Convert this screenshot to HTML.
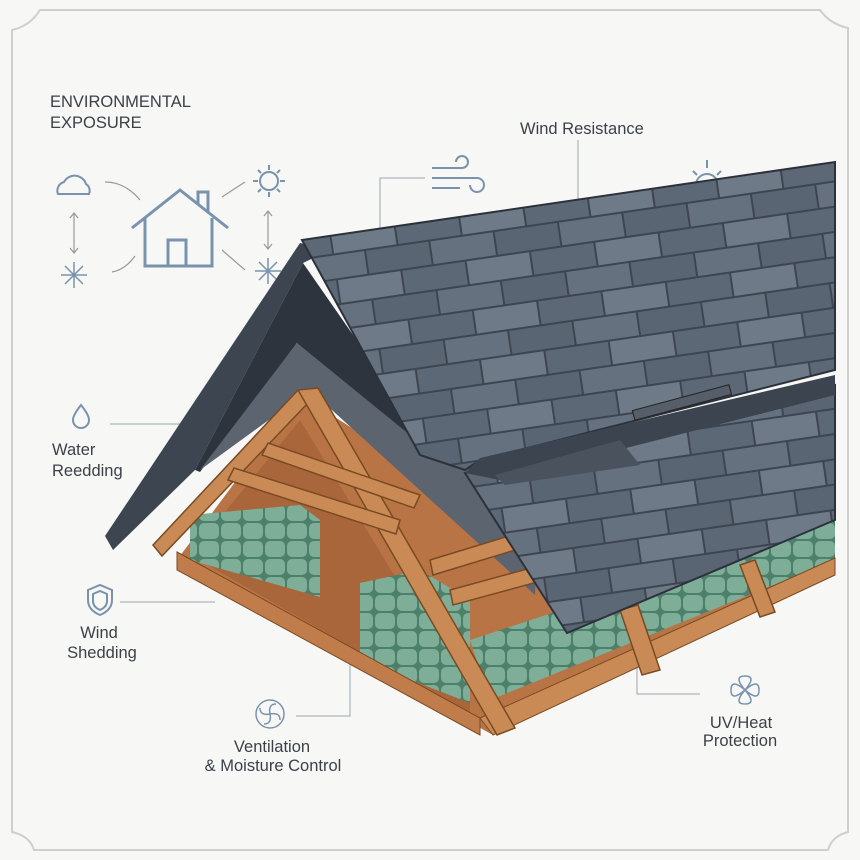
<!DOCTYPE html>
<html><head><meta charset="utf-8"><style>
html,body{margin:0;padding:0;background:#f7f7f6}
svg{display:block}
text{font-family:"Liberation Sans",sans-serif;fill:#3c4148}
</style></head><body>
<svg width="860" height="860" viewBox="0 0 860 860" xmlns="http://www.w3.org/2000/svg">
<defs>
<pattern id="sh" width="130" height="50" patternUnits="userSpaceOnUse" patternTransform="rotate(-8.3)">
<rect width="130" height="50" fill="#3d4550"/>
<rect x="1" y="1" width="63" height="23" fill="#66717f"/>
<rect x="66" y="1" width="63" height="23" fill="#5a6573"/>
<rect x="-31" y="26" width="63" height="23" fill="#5d6876"/>
<rect x="34" y="26" width="63" height="23" fill="#6f7a88"/>
<rect x="99" y="26" width="63" height="23" fill="#5d6876"/>
</pattern>
<pattern id="ins" width="22" height="18" patternUnits="userSpaceOnUse">
<rect width="22" height="18" fill="#4d806a"/>
<rect x="1" y="1" width="20" height="16" rx="5" fill="#7fae98"/>
</pattern>
</defs>
<rect width="860" height="860" fill="#f7f7f6"/>
<path d="M40 10 H820 Q830 24 848 28 V832 Q832 836 828 850 H34 Q30 836 12 832 V30 Q30 26 40 10Z" fill="none" stroke="#cfcfcf" stroke-width="2"/>

<text x="50" y="107" font-size="16.5">ENVIRONMENTAL</text>
<text x="50" y="128" font-size="16.5">EXPOSURE</text>
<g fill="none" stroke="#7a93ad" stroke-width="2">
<path d="M58 194 a9 9 0 0 1 6 -12 a12 12 0 0 1 22 2 a8 8 0 0 1 3 10 Z"/>
<path d="M132 228 L180 190 L228 228 M145 218 V266 H212 V218 M168 266 V240 H186 V266 M198 205 V192 H208 V212" stroke-width="3"/>
<circle cx="269" cy="181" r="9"/>
<path d="M269 165v5M269 192v5M253 181h5M280 181h5M258 170l3 3M277 189l3 3M258 192l3-3M277 173l3-3"/>
<path d="M74 262 v26M61 275h26M65 266l18 18M65 284l18-18" stroke-width="1.5"/>
<path d="M268 258 v26M255 271h26M259 262l18 18M259 280l18-18" stroke-width="1.5"/>
<path d="M432 168 h30 a6 6 0 1 0 -6 -6 M432 178 h45 a7 7 0 1 1 -7 7 M432 188 h28"/>
<circle cx="707" cy="185" r="11"/>
<path d="M707 160v8M690 185h-6M693 171l4 4M721 171l-4 4"/>
<path d="M722 190 l9 -4 l9 4 v8 q0 8 -9 12 q-9 -4 -9 -12z"/>
<path d="M81 405 q-8 10 -8 15 a8 8 0 0 0 16 0 q0 -5 -8 -15z"/>
<path d="M88 590 l12 -5 l12 5 v10 q0 10 -12 15 q-12 -5 -12 -15z M93 594 l7 -3 l7 3 v7 q0 6 -7 9 q-7 -3 -7 -9z"/>
<circle cx="270" cy="714" r="14" stroke-width="1.5"/>
<path d="M270 714 q-2 -10 6 -10 M270 714 q10 -2 10 6 M270 714 q2 10 -6 10 M270 714 q-10 2 -10 -6" stroke-width="1.5"/>
<path d="M745 690 q-12 -14 0 -14 q12 0 0 14 q14 -12 14 0 q0 12 -14 0 q12 14 0 14 q-12 0 0 -14 q-14 12 -14 0 q0 -12 14 0z" stroke-width="1.5"/>
</g>
<g stroke="#9a9a9a" stroke-width="1.2" fill="none">
<path d="M74 214v38M70 218l4-5 4 5M70 248l4 5 4-5M268 212v36M264 216l4-5 4 5M264 244l4 5 4-5"/>
<path d="M105 182 Q125 182 140 200M112 272 Q125 270 135 256M222 197 L245 182M222 250 L245 270"/>
</g>
<g stroke="#9aa4ad" stroke-width="1" fill="none">
<path d="M380 280 V178 H425M578 140 V200M110 424 H222M120 602 H215M296 716 H350 V660M637 640 V694 H700"/>
</g>
<text x="520" y="134" font-size="16.5">Wind Resistance</text>
<text x="52" y="455" font-size="16.5">Water</text>
<text x="52" y="476" font-size="16.5">Reedding</text>
<text x="99" y="638" font-size="16.5" text-anchor="middle">Wind</text>
<text x="102" y="658" font-size="16.5" text-anchor="middle">Shedding</text>
<text x="272" y="752" font-size="16.5" text-anchor="middle">Ventilation</text>
<text x="273" y="771" font-size="16.5" text-anchor="middle">&amp; Moisture Control</text>
<text x="741" y="728" font-size="16.5" text-anchor="middle">UV/Heat</text>
<text x="740" y="746" font-size="16.5" text-anchor="middle">Protection</text>

<!-- interior -->
<polygon points="177,560 300,395 560,560 835,450 835,575 493,735" fill="#b87445"/>
<polygon points="190,555 300,420 470,700 470,715" fill="#a9663a"/>
<!-- insulation -->
<polygon points="190,515 300,505 320,520 320,597 190,560" fill="url(#ins)"/>
<polygon points="360,583 420,570 470,600 470,703 360,660" fill="url(#ins)"/>
<polygon points="470,640 835,520 835,560 490,700" fill="url(#ins)"/>
<!-- floor front -->
<polygon points="177,552 480,718 480,735 177,570" fill="#c07d4b" stroke="#7a4a22"/>
<polygon points="480,718 835,558 835,575 493,735" fill="#c98a55" stroke="#7a4a22"/>
<!-- gable dark -->
<polygon points="300,243 105,536 113,550 195,470 303,263 330,250" fill="#3d4550"/>
<polygon points="303,263 195,470 200,472 297,343 420,455 440,460" fill="#2e343d"/>
<polygon points="297,343 200,470 310,390 535,595 540,480 437,457" fill="#5c6470"/>
<!-- trusses -->
<g fill="#c98a55" stroke="#7a4a22" stroke-width="1.5">
<polygon points="298,390 153,545 162,556 308,403"/>
<polygon points="298,390 318,388 515,728 497,735"/>
<polygon points="228,480 234,468 400,520 396,534"/>
<polygon points="262,455 268,443 420,495 414,508"/>
<polygon points="430,560 545,525 548,540 433,575"/>
<polygon points="450,590 560,560 563,575 453,605"/>
<polygon points="620,610 638,605 660,670 642,675"/>
<polygon points="740,565 755,560 775,612 760,617"/>
</g>
<!-- shingle roof -->
<polygon points="302,240 835,162 835,370 480,460 465,470 420,455" fill="url(#sh)" stroke="#2c323b" stroke-width="2"/>
<polygon points="465,473 835,385 835,520 567,633" fill="url(#sh)" stroke="#2c323b" stroke-width="2"/>
<polygon points="465,473 500,480 835,395 835,375 480,458" fill="#3c4450"/>
<polygon points="495,475 620,440 640,465 505,485" fill="#4a525d"/>
<rect x="632" y="398" width="100" height="10" fill="#555e69" stroke="#222" transform="rotate(-15 680 403)"/>
</svg>
</body></html>
